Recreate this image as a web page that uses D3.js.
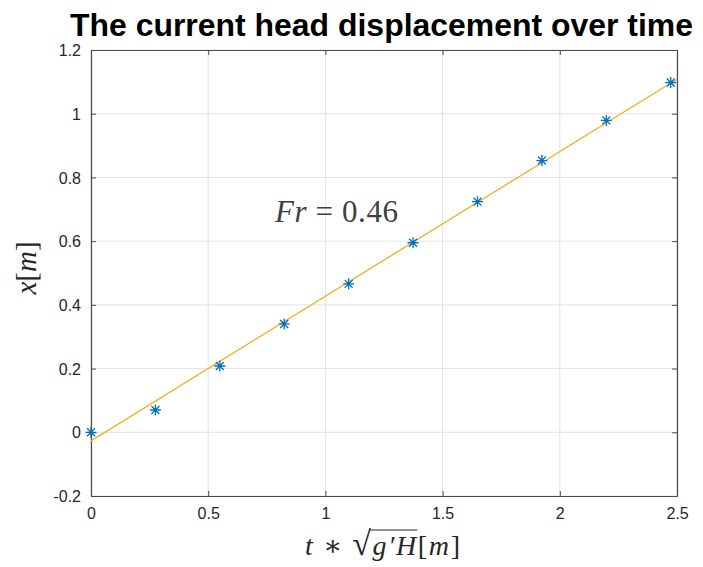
<!DOCTYPE html>
<html>
<head>
<meta charset="utf-8">
<script src="https://cdn.jsdelivr.net/npm/d3@7"></script>
<style>
  html, body { margin: 0; padding: 0; background: #fff; }
  svg { display: block; }
</style>
</head>
<body>
<svg id="chart" width="703" height="567"></svg>
<script>
// Nondimensional time samples and measured head position
const timeValues = [0, 0.2748, 0.5496, 0.8244, 1.0992, 1.374, 1.6488, 1.9236, 2.1984, 2.4732];
const headValues = [0, 0.070, 0.208, 0.340, 0.466, 0.595, 0.724, 0.853, 0.979, 1.098];
// Least-squares line through the measurements
const fitSlope = 0.454;
const fitIntercept = -0.027;
const fitRange = [0, 2.5];
// Axis ticks
const xTicks = [0, 0.5, 1, 1.5, 2, 2.5];
const yTicks = [-0.2, 0, 0.2, 0.4, 0.6, 0.8, 1, 1.2];
const titleText = "The current head displacement over time";
const froudeLabel = "0.46";

(function draw() {
const svg = d3.select("#chart");
const plotLeft = 91, plotRight = 677, plotTop = 50, plotBottom = 496;

const x = d3.scaleLinear().domain([0, 2.5]).range([plotLeft, plotRight]);
const y = d3.scaleLinear().domain([-0.2, 1.2]).range([plotBottom, plotTop]);

const axisColor = "#4a4a4a";
const textColor = "#262626";

// grid
const grid = svg.append("g");
grid.selectAll("line.gx").data(xTicks).join("line")
  .attr("x1", d => x(d)).attr("x2", d => x(d))
  .attr("y1", plotTop).attr("y2", plotBottom)
  .attr("stroke", "#e3e3e3").attr("stroke-width", 1);
grid.selectAll("line.gy").data(yTicks).join("line")
  .attr("x1", plotLeft).attr("x2", plotRight)
  .attr("y1", d => y(d)).attr("y2", d => y(d))
  .attr("stroke", "#e3e3e3").attr("stroke-width", 1);

// axes (ticks pointing inward, MATLAB style)
const fmt = d => String(d);
const tickLen = 5;
const axB = svg.append("g").attr("transform", `translate(0,${plotBottom})`)
  .call(d3.axisBottom(x).tickValues(xTicks).tickFormat(fmt).tickSizeInner(-tickLen).tickSizeOuter(0).tickPadding(12));
const axT = svg.append("g").attr("transform", `translate(0,${plotTop})`)
  .call(d3.axisTop(x).tickValues(xTicks).tickFormat("").tickSizeInner(-tickLen).tickSizeOuter(0));
const axL = svg.append("g").attr("transform", `translate(${plotLeft},0)`)
  .call(d3.axisLeft(y).tickValues(yTicks).tickFormat(fmt).tickSizeInner(-tickLen).tickSizeOuter(0).tickPadding(10));
const axR = svg.append("g").attr("transform", `translate(${plotRight},0)`)
  .call(d3.axisRight(y).tickValues(yTicks).tickFormat("").tickSizeInner(-tickLen).tickSizeOuter(0));

[axB, axT, axL, axR].forEach(g => {
  g.select(".domain").attr("stroke", axisColor).attr("stroke-width", 1.2);
  g.selectAll(".tick line").attr("stroke", axisColor).attr("stroke-width", 1);
  g.selectAll("text").attr("fill", textColor)
    .style("font-family", "Arial, 'Liberation Sans', Helvetica, sans-serif")
    .style("font-size", "16px");
});
axL.selectAll("text").attr("dy", "0.35em");

// fitted line
svg.append("line")
  .attr("x1", x(fitRange[0])).attr("y1", y(fitIntercept + fitSlope * fitRange[0]))
  .attr("x2", x(fitRange[1])).attr("y2", y(fitIntercept + fitSlope * fitRange[1]))
  .attr("stroke", "#EDB120").attr("stroke-width", 1.3);

// asterisk markers
const r = 5.5, rd = r * 0.72;
const starPath = `M${-r},0H${r}M0,${-r}V${r}M${-rd},${-rd}L${rd},${rd}M${-rd},${rd}L${rd},${-rd}`;
svg.append("g").selectAll("path").data(timeValues.map((t, i) => [t, headValues[i]])).join("path")
  .attr("transform", d => `translate(${x(d[0])},${y(d[1])})`)
  .attr("d", starPath)
  .attr("fill", "none").attr("stroke", "#0072BD").attr("stroke-width", 1.3);

// title
svg.append("text")
  .attr("x", 70).attr("y", 36)
  .attr("textLength", 623).attr("lengthAdjust", "spacingAndGlyphs")
  .style("font-family", "Arial, 'Liberation Sans', Helvetica, sans-serif")
  .style("font-weight", "bold").style("font-size", "32px")
  .attr("fill", "#000")
  .text(titleText);

// Froude number annotation
const serif = "'Liberation Serif', 'DejaVu Serif', serif";
const fr = svg.append("text")
  .attr("x", 275).attr("y", 222)
  .attr("textLength", 123).attr("lengthAdjust", "spacing")
  .style("font-family", serif).style("font-size", "31px")
  .attr("fill", "#404040");
fr.append("tspan").style("font-style", "italic").text("Fr");
fr.append("tspan").text(" = " + froudeLabel);

// x label: t * sqrt(g'H)[m]
const xl = svg.append("g");
const xlText = xl.append("text")
  .attr("x", 305).attr("y", 555)
  .style("font-family", serif).style("font-size", "28px")
  .attr("fill", "#262626");
xlText.append("tspan").style("font-style", "italic").text("t");
xlText.append("tspan").text(" \u2217 ");
const rad = xlText.append("tspan").style("font-size", "34px").text("\u221A");
const under = xlText.append("tspan").style("font-style", "italic").text("g\u2032H");
xlText.append("tspan").text("[");
xlText.append("tspan").style("font-style", "italic").text("m");
xlText.append("tspan").text("]");
xlText.attr("textLength", 155).attr("lengthAdjust", "spacing");
// overbar of the radical, spanning the radicand
const ext = n => {
  const i = n.getStartPositionOfChar(0).x;
  const e = n.getEndPositionOfChar(n.getNumberOfChars() - 1).x;
  return [i, e];
};
const radExt = ext(rad.node());
const undExt = ext(under.node());
xl.append("line")
  .attr("x1", radExt[1] - 1.5).attr("x2", undExt[1] + 1)
  .attr("y1", 530).attr("y2", 530)
  .attr("stroke", "#262626").attr("stroke-width", 1.2);

// y label: x[m]
const yl = svg.append("text")
  .attr("transform", "translate(36,268) rotate(-90)")
  .attr("text-anchor", "middle")
  .style("font-family", serif).style("font-size", "29px")
  .attr("fill", "#262626");
yl.append("tspan").style("font-style", "italic").text("x");
yl.append("tspan").text("[");
yl.append("tspan").style("font-style", "italic").text("m");
yl.append("tspan").text("]");
})();
</script>
</body>
</html>
